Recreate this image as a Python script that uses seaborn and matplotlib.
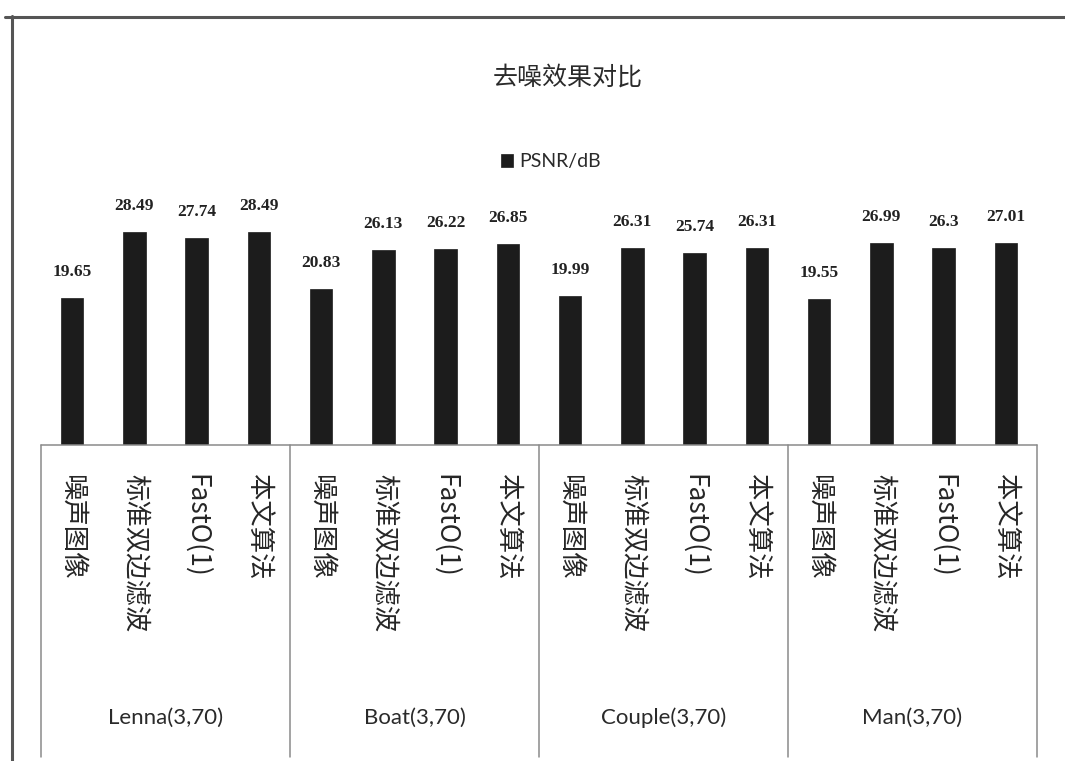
import matplotlib
matplotlib.use("Agg")
import matplotlib.pyplot as plt
from matplotlib.lines import Line2D
import matplotlib.transforms as mtransforms
import seaborn as sns
import pandas as pd

# ---- data ----
groups = ["Lenna(3,70)", "Boat(3,70)", "Couple(3,70)", "Man(3,70)"]
methods = ["噪声图像", "标准双边滤波", "FastO(1)", "本文算法"]
lenna = [19.65, 28.49, 27.74, 28.49]
boat = [20.83, 26.13, 26.22, 26.85]
couple = [19.99, 26.31, 25.74, 26.31]
man = [19.55, 26.99, 26.3, 27.01]
series_name = "PSNR/dB"
title = "去噪效果对比"

rows = []
for g, vals in zip(groups, [lenna, boat, couple, man]):
    for m, v in zip(methods, vals):
        rows.append({"key": f"{g}|{m}", "group": g, "method": m, "psnr": v})
df = pd.DataFrame(rows)

sns.set_theme(style="white")
plt.rcParams["font.family"] = ["Noto Sans CJK SC", "DejaVu Sans"]

W, H = 1065, 761
fig = plt.figure(figsize=(W / 100, H / 100), dpi=100)
fig.patch.set_facecolor("white")

ax_left, ax_right = 41, 1037
ax_bottom, ax_top = 445, 146
ax = fig.add_axes([ax_left / W, 1 - ax_bottom / H,
                   (ax_right - ax_left) / W, (ax_bottom - ax_top) / H])

sns.barplot(data=df, x="key", y="psnr", order=df["key"].tolist(),
            color="#1c1c1c", saturation=1, width=0.36, ax=ax,
            label=series_name, edgecolor="#1c1c1c", linewidth=0.5)

n = len(df)
ax.set_xlim(-0.5, n - 0.5)
ax.set_ylim(0, 40)
ax.set_facecolor("white")
for s in ax.spines.values():
    s.set_visible(False)
ax.set_yticks([])
ax.set_xlabel("")
ax.set_ylabel("")

# method names under each bar, reading top to bottom
ax.set_xticks(range(n))
ax.set_xticklabels(df["method"].tolist(), rotation=-90, fontsize=19,
                   color="#262626", va="top", ha="center",
                   family=["Noto Sans CJK SC", "DejaVu Sans"])
ax.tick_params(axis="x", length=0, pad=21)

# value labels above bars
ax.bar_label(ax.containers[0], labels=[f"{v:g}" for v in df["psnr"]],
             padding=13, fontsize=12.5, color="#222222", fontweight="bold",
             family="Liberation Serif")

# category box below the bars
trans = mtransforms.blended_transform_factory(ax.transData, fig.transFigure)
box_bottom = 1 - 757 / H
box_top = 1 - ax_bottom / H
line_kw = dict(color="#8a8a8a", lw=1.1, transform=trans, clip_on=False)
ax.add_line(Line2D([-0.5, n - 0.5], [box_top, box_top], **line_kw))
for gi in range(len(groups) + 1):
    xb = gi * len(methods) - 0.5
    ax.add_line(Line2D([xb, xb], [box_bottom, box_top], **line_kw))
for gi, g in enumerate(groups):
    xc = gi * len(methods) + (len(methods) - 1) / 2
    ax.text(xc, 1 - 718 / H, g, transform=trans, ha="center", va="center",
            fontsize=16, color="#2a2a2a", family="Lato")

# title and legend
fig.text(568 / W, 1 - 78 / H, title, ha="center", va="center",
         fontsize=18, color="#2a2a2a")
leg = ax.legend(loc="center", bbox_to_anchor=(551 / W, 1 - 162 / H),
                bbox_transform=fig.transFigure, frameon=False,
                handlelength=0.6, handleheight=0.6, handletextpad=0.3,
                prop={"family": "Lato", "size": 14})
for t in leg.get_texts():
    t.set_color("#2a2a2a")

# outer chart frame (top and left edges)
fig.add_artist(Line2D([5 / W, 1], [1 - 17 / H, 1 - 17 / H],
                      transform=fig.transFigure, color="#555555", lw=2.2))
fig.add_artist(Line2D([12 / W, 12 / W], [0, 1 - 16 / H],
                      transform=fig.transFigure, color="#555555", lw=2.2))

fig.savefig("out.png", dpi=100, facecolor="white")
